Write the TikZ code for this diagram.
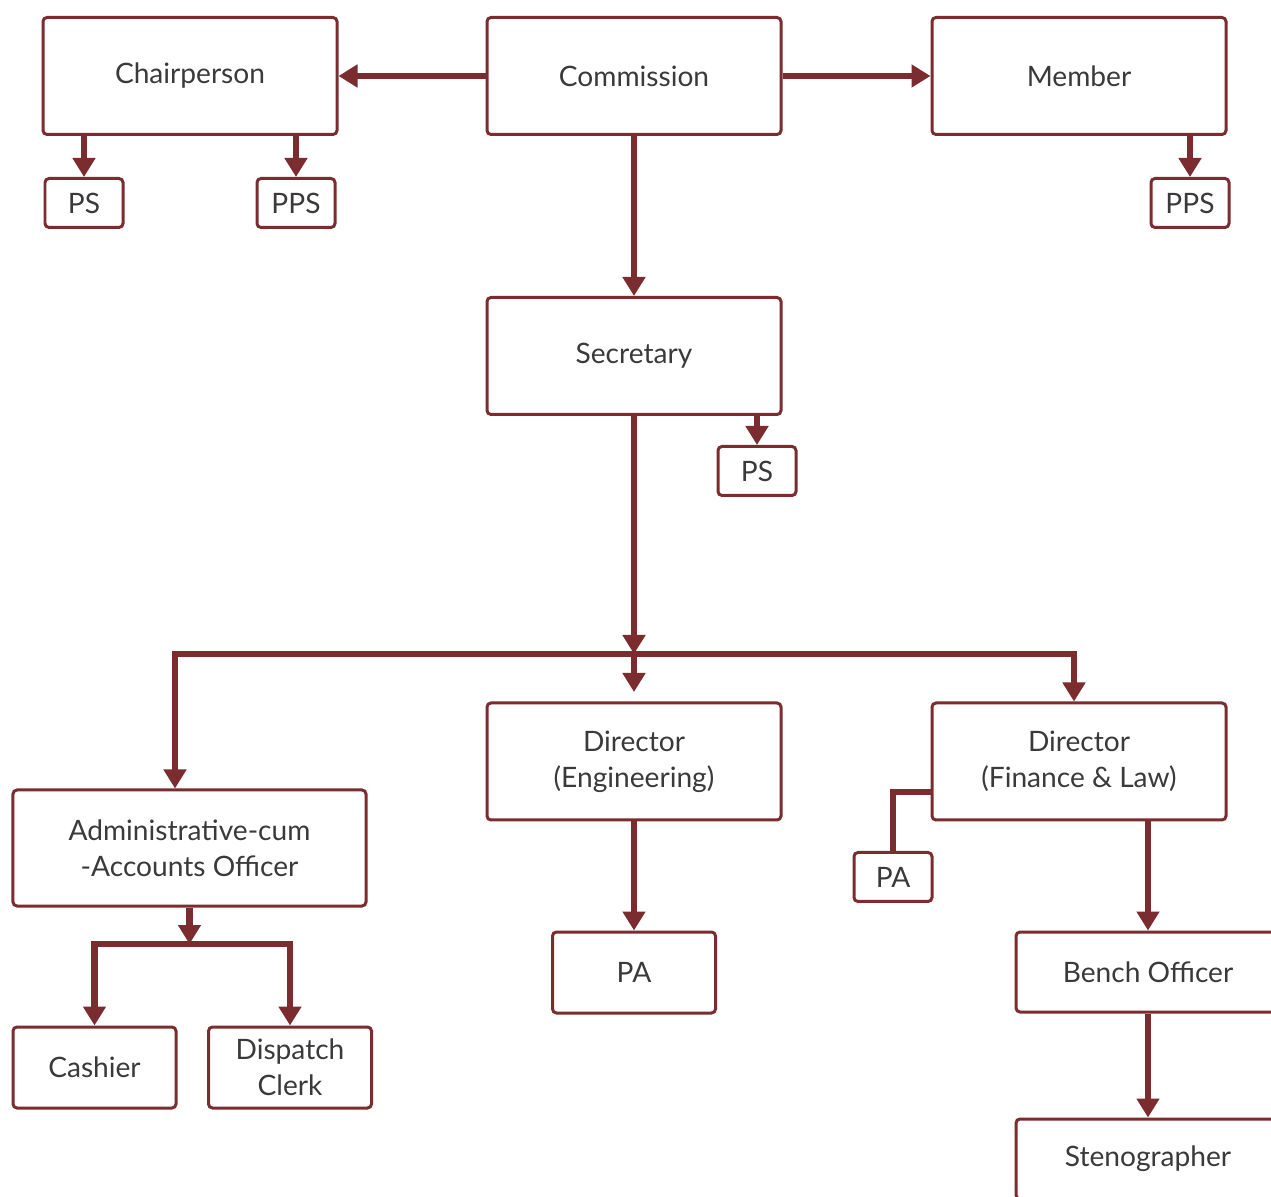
\documentclass[tikz,border=0pt]{standalone}
\usepackage{fontspec}
\setmainfont{Lato}
\usepackage{tikz}
\usepackage{xcolor}
\usetikzlibrary{arrows.meta}
\usetikzlibrary{positioning}
\definecolor{boxred}{HTML}{7B2C2E}
\definecolor{ink}{HTML}{3A3A3A}

\begin{document}
\begin{tikzpicture}[link/.style={draw=boxred,line width=0.13cm},
                    arrow/.style={link,-{Triangle[length=0.38cm,width=0.44cm]}},
                    both arrow/.style={link,{Triangle[length=0.38cm,width=0.44cm]}-{Triangle[length=0.38cm,width=0.44cm]}},
                    post/.style={rectangle,draw=boxred,fill=white,line width=0.06cm,rounded corners=0.08cm,
                                 text=ink,align=center,font=\fontsize{16}{20.5}\selectfont,
                                 minimum width=5.88cm,minimum height=2.34cm},
                    small post/.style={post,minimum width=1.56cm,minimum height=0.98cm},
                    mid post/.style={post,minimum width=3.26cm,minimum height=1.62cm}]

  \useasboundingbox[fill=white] (0,0) rectangle (25.42,-23.94);

  % top row
  \node[post] (comm) at (12.68,-1.52) {Commission};
  \node[post] (chair) at (3.80,-1.52) {Chairperson};
  \node[post] (member) at (21.58,-1.52) {Member};
  \node[small post] (chairps) at (1.68,-4.06) {PS};
  \node[small post] (chairpps) at (5.92,-4.06) {PPS};
  \node[small post] (memberpps) at (23.80,-4.06) {PPS};

  % secretary
  \node[post] (sec) at (12.68,-7.12) {Secretary};
  \node[small post] (secps) at (15.14,-9.42) {PS};

  % directors
  \node[post] (direng) at (12.68,-15.23) {Director\\(Engineering)};
  \node[post] (dirfl) at (21.58,-15.23) {Director\\(Finance \& Law)};
  \node[post,minimum width=7.06cm,minimum height=2.32cm] (admin) at (3.79,-16.96) {Administrative-cum\\-Accounts Officer};
  \node[small post] (flpa) at (17.86,-17.54) {PA};
  \node[mid post] (engpa) at (12.68,-19.45) {PA};
  \node[post,minimum width=5.28cm,minimum height=1.6cm] (bench) at (22.96,-19.44) {Bench Officer};
  \node[post,minimum width=5.28cm,minimum height=1.6cm] (steno) at (22.96,-23.18) {Stenographer};
  \node[mid post] (cashier) at (1.89,-21.35) {Cashier};
  \node[mid post] (dispatch) at (5.80,-21.35) {Dispatch\\Clerk};

  \coordinate (bus) at (12.68,-13.08);
  \coordinate (busl) at (3.50,-13.08);
  \coordinate (busr) at (21.48,-13.08);
  \coordinate (engin) at (12.68,-13.84);
  \coordinate (adbus) at (3.79,-18.88);

  \draw[arrow] (comm) -- (chair);
  \draw[arrow] (comm) -- (member);
  \draw[arrow] (comm) -- (sec);
  \draw[arrow] (chair.south -| chairps) -- (chairps);
  \draw[arrow] (chair.south -| chairpps) -- (chairpps);
  \draw[arrow] (member.south -| memberpps) -- (memberpps);
  \draw[arrow] (sec.south -| secps) -- (secps);
  \draw[arrow] (sec) -- (bus);
  \draw[arrow] (bus) -- (engin);
  \draw[arrow] (direng) -- (engpa);
  \draw[arrow] (dirfl.south -| bench) -- (bench);
  \draw[arrow] (bench) -- (steno);
  \draw[arrow] (admin) -- (adbus);

  \draw[both arrow] (busl |- admin.north) -- (busl) -- (busr) -- (busr |- dirfl.north);
  \draw[both arrow] (cashier.north) |- (adbus) -| (dispatch.north);
  \draw[link] ([yshift=-0.61cm]dirfl.west) -| (flpa.north);
\end{tikzpicture}
\end{document}
